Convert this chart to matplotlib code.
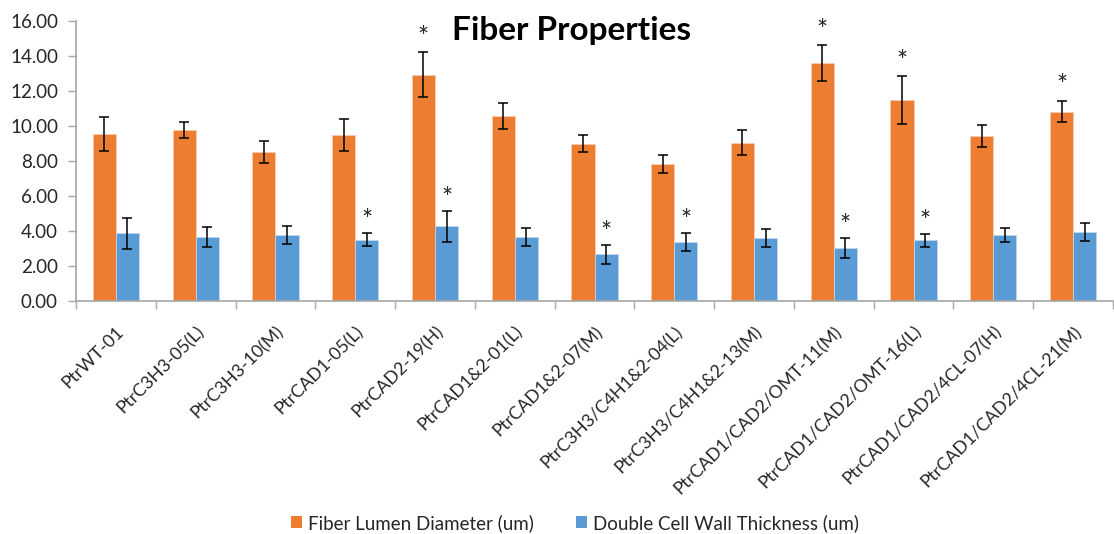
import numpy as np
import matplotlib
matplotlib.use("Agg")
import matplotlib.pyplot as plt
from matplotlib.patches import Patch

plt.rcParams['font.family'] = ['Lato', 'DejaVu Sans']

lines = ["PtrWT-01", "PtrC3H3-05(L)", "PtrC3H3-10(M)", "PtrCAD1-05(L)",
         "PtrCAD2-19(H)", "PtrCAD1&2-01(L)", "PtrCAD1&2-07(M)",
         "PtrC3H3/C4H1&2-04(L)", "PtrC3H3/C4H1&2-13(M)",
         "PtrCAD1/CAD2/OMT-11(M)", "PtrCAD1/CAD2/OMT-16(L)",
         "PtrCAD1/CAD2/4CL-07(H)", "PtrCAD1/CAD2/4CL-21(M)"]

# fiber lumen diameter (um) and its error
lumen = [9.53, 9.76, 8.49, 9.47, 12.92, 10.54, 8.98, 7.82, 9.04, 13.58, 11.47, 9.42, 10.81]
lumen_err = [0.95, 0.44, 0.63, 0.90, 1.28, 0.74, 0.48, 0.50, 0.73, 1.03, 1.36, 0.65, 0.62]
# double cell wall thickness (um) and its error
wall = [3.86, 3.65, 3.77, 3.50, 4.26, 3.65, 2.66, 3.37, 3.60, 3.04, 3.48, 3.77, 3.94]
wall_err = [0.87, 0.57, 0.50, 0.38, 0.90, 0.50, 0.55, 0.53, 0.53, 0.56, 0.37, 0.38, 0.50]
# significant differences
lumen_sig = [4, 9, 10, 12]
wall_sig = [3, 4, 6, 7, 9, 10]

ORANGE = "#ED7D31"
BLUE = "#5B9BD5"
GREY = "#A6A6A6"
TXT = "#262626"

fig = plt.figure(figsize=(11.14, 5.34), dpi=100)
ax = fig.add_axes([76 / 1114, 1 - 301 / 534, (1113 - 76) / 1114, (301 - 20.7) / 534])

x = np.arange(len(lines))
w = 0.29
err_kw = dict(ecolor="black", elinewidth=1.1, capsize=3.5, capthick=1.1)
ax.bar(x - w / 2, lumen, w, yerr=lumen_err, color=ORANGE, edgecolor="#F8CBAD",
       linewidth=0.6, error_kw=err_kw, zorder=2)
ax.bar(x + w / 2, wall, w, yerr=wall_err, color=BLUE, edgecolor="#BDD7EE",
       linewidth=0.6, error_kw=err_kw, zorder=2)

for i in lumen_sig:
    ax.annotate("*", (x[i] - w / 2, lumen[i] + lumen_err[i]), xytext=(0, 1),
                textcoords="offset points", ha="center", va="bottom",
                fontsize=19, color="#262626")
for i in wall_sig:
    ax.annotate("*", (x[i] + w / 2, wall[i] + wall_err[i]), xytext=(0, -1),
                textcoords="offset points", ha="center", va="bottom",
                fontsize=19, color="#262626")

ax.set_ylim(0, 16)
ax.set_yticks(np.arange(0, 16.1, 2))
ax.set_yticklabels([f"{v:.2f}" for v in np.arange(0, 16.1, 2)])
ax.set_xlim(-0.5, -0.5 + (1113 - 76) / 80.6)

ax.set_xticks(x)
ax.set_xticklabels(lines, rotation=45, ha="right", rotation_mode="anchor")
ax.set_xticks(np.arange(-0.5, len(lines), 1), minor=True)
ax.tick_params(axis="x", which="major", length=0, pad=16, labelsize=12.8, labelcolor=TXT)
ax.tick_params(axis="x", which="minor", length=6, color=GREY, width=1)
ax.tick_params(axis="y", length=6, color=GREY, width=1, labelsize=13.5, labelcolor=TXT, pad=7)

for s in ["top", "right"]:
    ax.spines[s].set_visible(False)
for s in ["left", "bottom"]:
    ax.spines[s].set_color(GREY)
    ax.spines[s].set_linewidth(1.2)

fig.text(572 / 1114, 1 - 40 / 534, "Fiber Properties", ha="center", va="baseline",
         fontsize=24, fontweight="bold", color="black")

handles = [Patch(facecolor=ORANGE, label="Fiber Lumen Diameter (um)"),
           Patch(facecolor=BLUE, label="Double Cell Wall Thickness (um)")]
fig.legend(handles=handles, loc="center", bbox_to_anchor=(575 / 1114, 1 - 523 / 534),
           ncol=2, frameon=False, fontsize=13.5, handlelength=0.6, handleheight=0.6,
           handletextpad=0.35, columnspacing=2.2, labelcolor=TXT)

fig.savefig("out.png", dpi=100)
